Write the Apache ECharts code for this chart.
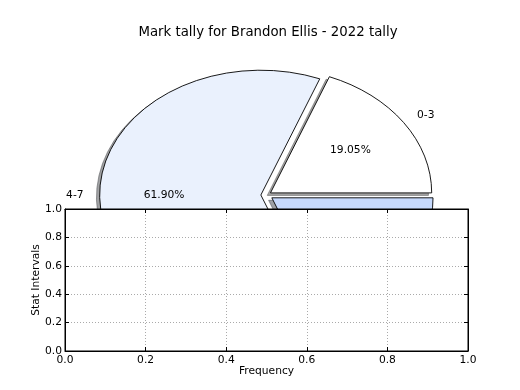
<!DOCTYPE html>
<html><head><meta charset="utf-8">
<script src="https://cdn.jsdelivr.net/npm/echarts@6/dist/echarts.min.js"></script>
<style>html,body{margin:0;padding:0;background:#fff}#c{width:520px;height:390px}</style>
</head><body><div id="c"></div>
<script>
const chartTitle = 'Mark tally for Brandon Ellis - 2022 tally';
const categories = ['0-3', '4-7', '8-11'];
const counts = [4, 13, 4];
const sliceColors = ['#ffffff', '#eaf1fd', '#c6d9fc'];
const explode = [0.03, 0.035, 0.04];
const xTickLabels = ['0.0', '0.2', '0.4', '0.6', '0.8', '1.0'];
const yTickLabels = ['0.0', '0.2', '0.4', '0.6', '0.8', '1.0'];
const xLabel = 'Frequency';
const yLabel = 'Stat Intervals';

const FONT = 'DejaVu Sans';
const total = counts.reduce((a, b) => a + b, 0);
const startDeg = [];
let acc = 0;
counts.forEach(v => { startDeg.push(acc); acc += v / total * 360; });

function wedgePath(cx, cy, rx, ry, t1, t2) {
  const r1 = t1 * Math.PI / 180, r2 = t2 * Math.PI / 180;
  const x1 = cx + rx * Math.cos(r1), y1 = cy - ry * Math.sin(r1);
  const x2 = cx + rx * Math.cos(r2), y2 = cy - ry * Math.sin(r2);
  const large = (t2 - t1) > 180 ? 1 : 0;
  return 'M' + cx + ' ' + cy + 'L' + x1 + ' ' + y1 + 'A' + rx + ' ' + ry + ' 0 ' + large + ' 0 ' + x2 + ' ' + y2 + 'Z';
}
function shadowColor(hex) {
  const n = parseInt(hex.slice(1), 16);
  const r = Math.round(((n >> 16) & 255) * 0.3), g = Math.round(((n >> 8) & 255) * 0.3), b = Math.round((n & 255) * 0.3);
  return 'rgba(' + r + ',' + g + ',' + b + ',0.5)';
}

const chart = echarts.init(document.getElementById('c'), null, {renderer: 'canvas'});
const axisFont = {color: '#000', fontSize: 10.7, fontFamily: FONT};

chart.setOption({
  animation: false,
  backgroundColor: '#fff',
  title: {
    text: chartTitle, left: 263, top: 21, textAlign: 'center',
    textStyle: {fontFamily: FONT, fontSize: 13.3, fontWeight: 'normal', color: '#000'}
  },
  grid: [
    {left: 65, right: 52, top: 39, bottom: 39, show: false},
    {left: 65, right: 52, top: 209, bottom: 39, show: true, backgroundColor: '#fff', borderColor: '#000', borderWidth: 1}
  ],
  xAxis: [
    {gridIndex: 0, type: 'value', min: -1.25, max: 1.25, show: false},
    {gridIndex: 1, type: 'value', min: 0, max: 1, interval: 0.2, position: 'bottom',
      axisLine: {show: true, onZero: false, lineStyle: {color: '#000', width: 1}},
      axisTick: {show: true, inside: true, length: 4, lineStyle: {color: '#000'}},
      axisLabel: Object.assign({formatter: (v, i) => xTickLabels[i], margin: 4}, axisFont),
      splitLine: {show: true, lineStyle: {color: '#aaa', type: [1, 2], width: 1}},
      name: xLabel, nameLocation: 'middle', nameGap: 15, nameMoveOverlap: false, nameTextStyle: axisFont},
    {gridIndex: 1, type: 'value', min: 0, max: 1, interval: 0.2, position: 'top',
      axisLine: {show: true, onZero: false, lineStyle: {color: '#000', width: 1}},
      axisTick: {show: true, inside: true, length: 4, lineStyle: {color: '#000'}},
      axisLabel: {show: false}, splitLine: {show: false}}
  ],
  yAxis: [
    {gridIndex: 0, type: 'value', min: -1.25, max: 1.25, show: false},
    {gridIndex: 1, type: 'value', min: 0, max: 1, interval: 0.2, position: 'left',
      axisLine: {show: true, onZero: false, lineStyle: {color: '#000', width: 1}},
      axisTick: {show: true, inside: true, length: 4, lineStyle: {color: '#000'}},
      axisLabel: Object.assign({formatter: (v, i) => yTickLabels[i], margin: 3}, axisFont),
      splitLine: {show: true, lineStyle: {color: '#aaa', type: [1, 2], width: 1}},
      name: yLabel, nameLocation: 'middle', nameGap: 23, nameRotate: 90, nameMoveOverlap: false, nameTextStyle: axisFont},
    {gridIndex: 1, type: 'value', min: 0, max: 1, interval: 0.2, position: 'right',
      axisLine: {show: true, onZero: false, lineStyle: {color: '#000', width: 1}},
      axisTick: {show: true, inside: true, length: 4, lineStyle: {color: '#000'}},
      axisLabel: {show: false}, splitLine: {show: false}}
  ],
  series: [{
    type: 'custom',
    coordinateSystem: 'cartesian2d',
    xAxisIndex: 0, yAxisIndex: 0,
    z: -1,
    silent: true,
    encode: {x: 0, y: 1},
    data: counts.map((v, i) => [0, 0, i, v]),
    renderItem: function (params, api) {
      const i = api.value(2);
      const c = api.coord([0, 0]);
      const s = api.size([1, 1]);
      const rx = s[0], ry = s[1];
      const t1 = startDeg[i], t2 = startDeg[i] + api.value(3) / total * 360;
      const mid = (t1 + t2) / 2 * Math.PI / 180;
      const cx = c[0] + explode[i] * rx * Math.cos(mid);
      const cy = c[1] - explode[i] * ry * Math.sin(mid);
      const d = wedgePath(cx, cy, rx, ry, t1, t2);
      const sd = wedgePath(cx - 0.02 * rx, cy + 0.02 * ry, rx, ry, t1, t2);
      const lx = cx + 1.1 * rx * Math.cos(mid), ly = cy - 1.1 * ry * Math.sin(mid);
      const px = cx + 0.6 * rx * Math.cos(mid), py = cy - 0.6 * ry * Math.sin(mid);
      const pct = (api.value(3) / total * 100).toFixed(2) + '%';
      const sc = shadowColor(sliceColors[i]);
      const font = '10.7px "DejaVu Sans"';
      return {type: 'group', children: [
        {type: 'path', shape: {pathData: sd}, z2: 1, style: {fill: sc, stroke: sc, lineWidth: 1}},
        {type: 'path', shape: {pathData: d}, z2: 10, style: {fill: sliceColors[i], stroke: '#000', lineWidth: 0.9, lineJoin: 'miter'}},
        {type: 'text', x: lx, y: ly, z2: 20, style: {text: categories[i], font: font, fill: '#000',
          align: Math.cos(mid) > 0 ? 'left' : 'right', verticalAlign: 'middle',
          textAlign: Math.cos(mid) > 0 ? 'left' : 'right', textVerticalAlign: 'middle'}},
        {type: 'text', x: px, y: py, z2: 20, style: {text: pct, font: font, fill: '#000',
          align: 'center', verticalAlign: 'middle', textAlign: 'center', textVerticalAlign: 'middle'}}
      ]};
    }
  }]
});
</script>
</body></html>
